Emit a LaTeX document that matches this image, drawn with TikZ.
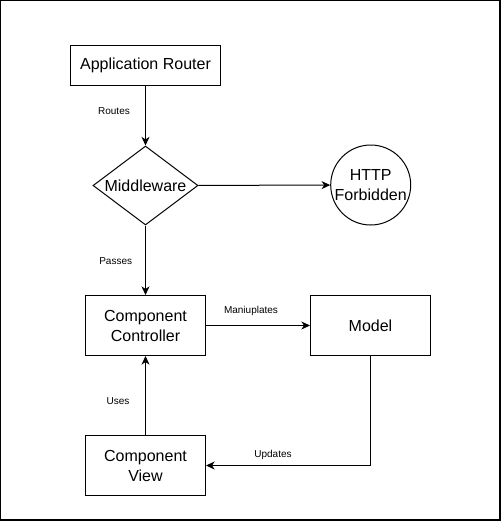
\documentclass[tikz,border=0pt]{standalone}
\usepackage{fontspec}
\setmainfont{Liberation Sans}
\usetikzlibrary{shapes.geometric,arrows.meta}
\tikzset{
  px/.style={x=0.75pt,y=-0.75pt},
  boxnode/.style={draw,line width=0.75pt,minimum width=90pt,minimum height=45pt,inner sep=0pt,align=center,font=\fontsize{12}{15}\selectfont},
  decide/.style={draw,line width=0.75pt,diamond,aspect=1.33,minimum width=78.75pt,minimum height=59.25pt,inner sep=0pt,font=\fontsize{12}{15}\selectfont},
  endnode/.style={draw,line width=0.75pt,circle,minimum size=60pt,inner sep=0pt,align=center,font=\fontsize{12}{15}\selectfont},
  conn/.style={line width=0.75pt,-{Stealth[length=6.5pt,width=6pt,inset=2pt]}},
  lbl/.style={font=\fontsize{7.5}{9}\selectfont,inner sep=0pt}
}
\begin{document}
\begin{tikzpicture}[px]
\useasboundingbox (0,0) rectangle (502,521);
\draw[line width=1.1pt] (0.7,0.7) rectangle (499.8,519.8);
\node[boxnode,minimum width=113pt,minimum height=30pt] (router) at (145.5,65) {Application Router};
\node[decide] (mid) at (145.5,185.5) {Middleware};
\node[endnode] (http) at (370.7,185) {HTTP\\Forbidden};
\node[boxnode] (ctrl) at (145.5,325.5) {Component\\Controller};
\node[boxnode] (model) at (370.5,325.5) {Model};
\node[boxnode] (view) at (145.5,465.5) {Component\\View};
\draw[conn] (router) -- (mid);
\draw[conn] (mid) -- (http);
\draw[conn] (mid) -- (ctrl);
\draw[conn] (ctrl) -- (model);
\draw[conn] (view) -- (ctrl);
\draw[conn] (model.south) |- (view.east);
\node[lbl] (lroutes) at (114,111) {Routes};
\node[lbl] (lpasses) at (115.7,261) {Passes};
\node[lbl] (lmanip) at (251,311) {Maniuplates};
\node[lbl] (luses) at (118,401) {Uses};
\node[lbl] (lupd) at (273,454.5) {Updates};
\end{tikzpicture}
\end{document}
